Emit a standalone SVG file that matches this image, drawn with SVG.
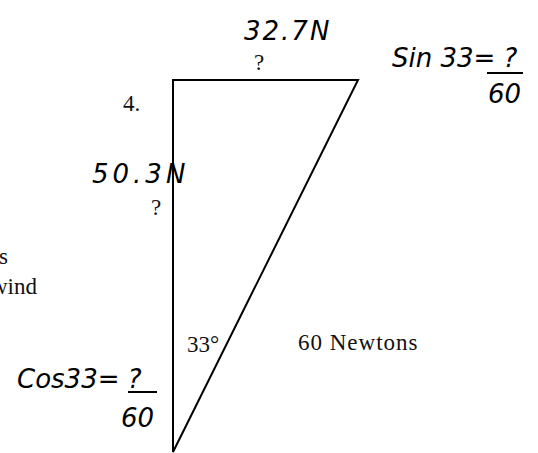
<svg xmlns="http://www.w3.org/2000/svg" width="538" height="453" viewBox="0 0 538 453">
<style>
.p{font-family:"Liberation Serif",serif;font-size:23px;fill:#111}
.h{font-family:"DejaVu Sans","Liberation Sans",sans-serif;font-size:26px;fill:#000;font-style:italic}
.ln{stroke:#000;stroke-width:2;fill:none}
</style>
<rect width="538" height="453" fill="#fff"/>
<g id="connectors">
<path class="ln" d="M173 80 H358 L173 452 Z"/>
</g>
<g id="labels">
<text class="p" x="123" y="111">4.</text>
<text class="p" x="254" y="70">?</text>
<text class="p" x="151" y="215">?</text>
<text class="p" x="8" y="264" text-anchor="end">s</text>
<text class="p" x="37" y="294" text-anchor="end">wind</text>
<text class="p" x="187" y="352">33°</text>
<text class="p" x="298" y="350" font-size="24" letter-spacing="1">60 Newtons</text>
</g>
<g id="handwriting">
<text class="h" x="244" y="40" font-size="30" letter-spacing="2">32.7N</text>
<text class="h" x="392" y="67" font-size="22">Sin 33= ?</text>
<line class="ln" x1="487" y1="73" x2="523" y2="73"/>
<text class="h" x="488" y="103" font-size="24">60</text>
<text class="h" x="92" y="183" font-size="30" letter-spacing="4">50.3N</text>
<text class="h" x="17" y="388" font-size="22">Cos33= ?</text>
<line class="ln" x1="128" y1="392" x2="157" y2="392"/>
<text class="h" x="121" y="427" font-size="24">60</text>
</g>
</svg>
